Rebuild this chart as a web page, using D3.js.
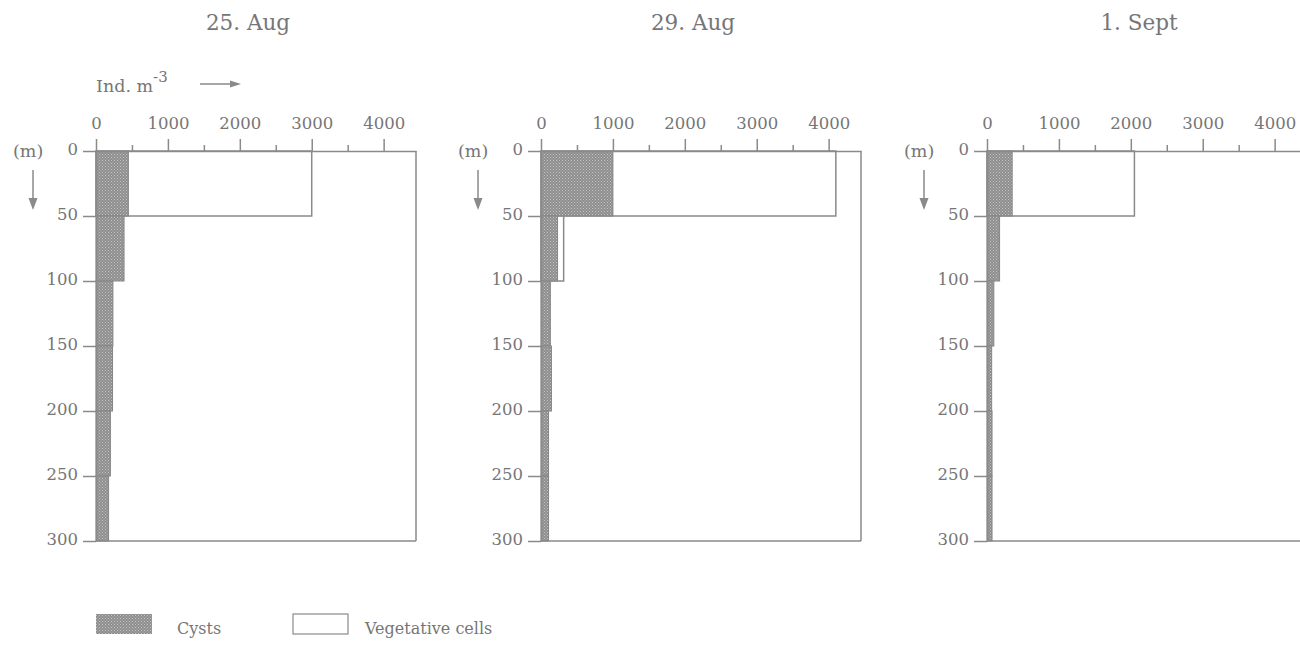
<!DOCTYPE html>
<html>
<head>
<meta charset="utf-8">
<script src="https://cdn.jsdelivr.net/npm/d3@7"></script>
<style>
  body { margin: 0; background: #fff; }
  svg { display: block; font-family: "DejaVu Serif", "Liberation Serif", serif; }
</style>
</head>
<body>
<svg id="chart" width="1300" height="647"></svg>
<script>
// depth layers (m), each 50 m thick
const depthTop = [0, 50, 100, 150, 200, 250]
const depthTicks = [0, 50, 100, 150, 200, 250, 300]
const countTicks = [0, 1000, 2000, 3000, 4000]
const minorTicks = [500, 1500, 2500, 3500]

const dates = ['25. Aug', '29. Aug', '1. Sept']
// Ind. m-3 per layer
const cysts25 = [450, 390, 235, 230, 200, 175]
const veg25 = [3000, 0, 0, 0, 0, 0]
const cysts29 = [1000, 230, 130, 145, 105, 105]
const veg29 = [4100, 315, 0, 0, 0, 0]
const cysts01 = [350, 175, 95, 65, 70, 70]
const veg01 = [2050, 0, 0, 0, 0, 0]

const panels = [
  { date: dates[0], cysts: cysts25, veg: veg25, x0: 96 },
  { date: dates[1], cysts: cysts29, veg: veg29, x0: 541 },
  { date: dates[2], cysts: cysts01, veg: veg01, x0: 987 }
]

const lineColor = '#8a8a8a'
const textColor = '#767676'
const topY = 151

const svg = d3.select('#chart')

// stipple fill for cysts
const pat = svg.append('defs').append('pattern')
  .attr('id', 'stipple').attr('width', 3).attr('height', 3)
  .attr('patternUnits', 'userSpaceOnUse')
pat.append('rect').attr('width', 3).attr('height', 3).attr('fill', '#8e8e8e')
pat.append('rect').attr('x', 0).attr('y', 0).attr('width', 1).attr('height', 1).attr('fill', '#c4c4c4')
pat.append('rect').attr('x', 1.5).attr('y', 1.5).attr('width', 1).attr('height', 1).attr('fill', '#bdbdbd')

const x = d3.scaleLinear().domain([0, 4450]).range([0, 320])
const y = d3.scaleLinear().domain([0, 300]).range([0, 390])

function styleAxis(g) {
  g.selectAll('path, line').attr('stroke', lineColor).attr('stroke-width', 1.5)
  g.selectAll('text').attr('fill', textColor).style('font-size', '16.5px')
    .style('font-family', '"DejaVu Serif", "Liberation Serif", serif')
}

panels.forEach(function (p) {
  const g = svg.append('g').attr('transform', 'translate(' + p.x0 + ',' + topY + ')')

  // title
  svg.append('text').attr('x', p.x0 + 152).attr('y', 30)
    .attr('text-anchor', 'middle').attr('fill', textColor)
    .style('font-size', '21.5px').text(p.date)

  // vegetative cells (outline from 0)
  g.selectAll('.veg').data(depthTop.map((d, i) => ({ d: d, v: p.veg[i] })).filter(o => o.v > 0))
    .enter().append('rect').attr('class', 'veg')
    .attr('x', 0).attr('y', o => y(o.d))
    .attr('width', o => x(o.v)).attr('height', o => y(o.d + 50) - y(o.d))
    .attr('fill', '#fff').attr('stroke', lineColor).attr('stroke-width', 1.5)

  // cysts
  g.selectAll('.cyst').data(depthTop.map((d, i) => ({ d: d, v: p.cysts[i] })))
    .enter().append('rect').attr('class', 'cyst')
    .attr('x', 0).attr('y', o => y(o.d))
    .attr('width', o => x(o.v)).attr('height', o => y(o.d + 50) - y(o.d))
    .attr('fill', 'url(#stipple)').attr('stroke', '#858585').attr('stroke-width', 1)

  // frame right and bottom
  g.append('line').attr('x1', x(4450)).attr('x2', x(4450)).attr('y1', 0).attr('y2', y(300))
    .attr('stroke', lineColor).attr('stroke-width', 1.5)
  g.append('line').attr('x1', 0).attr('x2', x(4450)).attr('y1', y(300)).attr('y2', y(300))
    .attr('stroke', lineColor).attr('stroke-width', 1.5)

  // top axis
  const gx = g.append('g').call(d3.axisTop(x).tickValues(countTicks).tickSize(12)
    .tickSizeOuter(0).tickPadding(10).tickFormat(d3.format('d')))
  styleAxis(gx)
  const gm = g.append('g').call(d3.axisTop(x).tickValues(minorTicks).tickSize(6)
    .tickSizeOuter(0).tickFormat(''))
  gm.select('.domain').remove()
  styleAxis(gm)

  // left axis
  const gy = g.append('g').call(d3.axisLeft(y).tickValues(depthTicks).tickSize(13)
    .tickSizeOuter(0).tickPadding(5))
  gy.selectAll('text').attr('dy', '0.2em')
  styleAxis(gy)

  // depth label and arrow
  svg.append('text').attr('x', p.x0 - 83).attr('y', topY + 6)
    .attr('fill', textColor).style('font-size', '17.5px').text('(m)')
  svg.append('line').attr('x1', p.x0 - 63).attr('x2', p.x0 - 63)
    .attr('y1', topY + 19).attr('y2', topY + 56)
    .attr('stroke', lineColor).attr('stroke-width', 1.5)
  svg.append('path')
    .attr('d', 'M' + (p.x0 - 67.5) + ',' + (topY + 47) + ' L' + (p.x0 - 63) + ',' + (topY + 59) + ' L' + (p.x0 - 58.5) + ',' + (topY + 47) + 'Z')
    .attr('fill', lineColor)
})

// unit label
const unit = svg.append('text').attr('x', 96).attr('y', 92).attr('fill', textColor).style('font-size', '17.5px')
unit.append('tspan').text('Ind. m')
unit.append('tspan').attr('dy', -10).style('font-size', '15px').text('-3')
svg.append('line').attr('x1', 200).attr('x2', 234).attr('y1', 84).attr('y2', 84)
  .attr('stroke', lineColor).attr('stroke-width', 1.5)
svg.append('path').attr('d', 'M230,80.5 L241,84 L230,87.5Z').attr('fill', lineColor)

// legend
const legend = svg.append('g')
legend.append('rect').attr('x', 96).attr('y', 614).attr('width', 56).attr('height', 20)
  .attr('fill', 'url(#stipple)')
legend.append('text').attr('x', 177).attr('y', 634).attr('fill', textColor)
  .style('font-size', '16px').text('Cysts')
legend.append('rect').attr('x', 293).attr('y', 614).attr('width', 55).attr('height', 20)
  .attr('fill', '#fff').attr('stroke', lineColor).attr('stroke-width', 1.2)
legend.append('text').attr('x', 365).attr('y', 634).attr('fill', textColor)
  .style('font-size', '16px').text('Vegetative cells')
</script>
</body>
</html>
